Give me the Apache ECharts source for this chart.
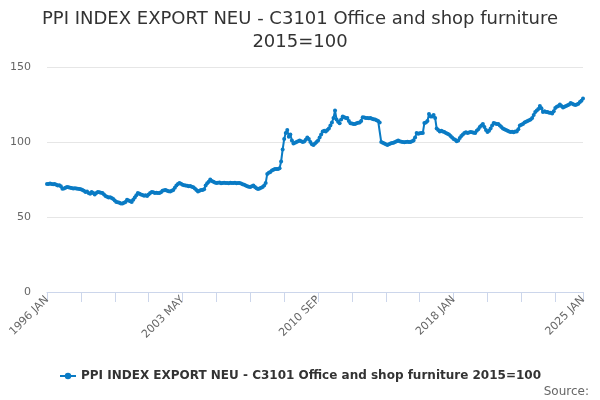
<!DOCTYPE html>
<html>
<head>
<meta charset="utf-8">
<script src="https://cdn.jsdelivr.net/npm/echarts@6/dist/echarts.min.js"></script>
<style>html,body{margin:0;padding:0;background:#fff}#c{width:600px;height:400px}</style>
</head>
<body>
<div id="c"></div>
<script>
var monthNames = ['JAN','FEB','MAR','APR','MAY','JUN','JUL','AUG','SEP','OCT','NOV','DEC'];
var startYear = 1996, endYear = 2025;
var categories = [];
for (var y = startYear; y <= endYear; y++) {
  for (var m = 0; m < 12; m++) {
    if (y === endYear && m > 0) break;
    categories.push(y + ' ' + monthNames[m]);
  }
}
var seriesName = 'PPI INDEX EXPORT NEU - C3101 Office and shop furniture 2015=100';
var values = [
  72, 72, 72.3, 72, 71.8, 72, 71.5, 71, 71.2, 70.5, 68.8, 69,
  69.5, 70, 69.8, 69.5, 69.3, 69, 69.2, 69, 68.8, 68.6, 68.5, 68,
  67.5, 66.7, 67, 66, 65.5, 66.7, 66, 65, 66, 66.7, 66.5, 66.2,
  66, 65, 64, 63.5, 63, 63.2, 62.6, 62, 61, 60, 59.8, 59.5,
  59, 59, 59.5, 60, 61.5, 61, 60.5, 60, 61.5, 63, 64.5, 66,
  65.5, 65, 64.6, 64.2, 64.5, 64, 65, 66, 66.7, 66.5, 66, 66.2,
  66, 66, 66.5, 67.5, 67.8, 68, 67.5, 67.2, 67, 67.5, 68, 69.5,
  71, 72, 72.6, 72.2, 71.5, 71.2, 71, 70.8, 70.5, 70.6, 70.2, 69.8,
  69, 68, 67, 67.5, 68, 68, 68.5, 71, 72.5, 73.5, 75, 74,
  73.5, 73, 72.6, 72.8, 73, 72.5, 72.7, 72.8, 72.6, 72.7, 72.5, 72.8,
  72.7, 72.6, 72.8, 72.5, 72.7, 72.7, 72.3, 71.8, 71.5, 71, 70.5, 70.2,
  70, 70.5, 71, 70, 69.2, 68.6, 69, 69.5, 70, 71, 72.7, 78.7,
  79.5, 80, 81, 81.5, 82, 82, 82, 82.5, 87, 95, 102, 106,
  108, 103.5, 105, 101, 99, 99.5, 100, 100.5, 101, 100.5, 100, 100.3,
  101.5, 103, 102, 100, 98.5, 98, 99, 100, 101, 103, 105, 107,
  107.5, 107, 108, 109, 111, 113, 116, 121, 115, 113.5, 112.5, 115,
  117, 116.5, 116, 116, 114, 112.5, 112.3, 112, 112, 112.5, 112.8, 113,
  114, 116.5, 116.3, 116, 116, 115.8, 116, 115.5, 115.2, 115, 114.5, 114,
  113, 100, 99.5, 99, 98.5, 98, 98.5, 99, 99.3, 99.5, 100, 100.5,
  101, 100.5, 100.2, 100, 99.8, 100, 100.2, 100, 100, 100.5, 101, 103,
  106, 105.5, 105.8, 106, 106, 112.6, 113, 114, 118.6, 117, 117, 118,
  116, 109, 108, 107, 107.5, 107, 106.6, 106, 105.5, 105, 104, 103,
  102, 101.5, 100.5, 101, 102.6, 104, 105, 106, 106.5, 106, 106.3, 106.6,
  106.5, 106.2, 106, 107.5, 108.5, 110, 111, 112, 110, 108, 106.6, 107.5,
  109, 111, 112.6, 112.3, 112, 112, 111, 110, 109, 108.5, 108, 107.5,
  107, 106.6, 106.8, 106.5, 107, 107, 108.5, 111, 111.5, 112, 113, 113.5,
  114, 114.5, 115, 116, 118, 120, 121, 122, 124, 122.5, 120, 120.5,
  120, 120, 119.5, 119.5, 119, 120.5, 122.6, 123.5, 124, 125, 124, 123,
  123.5, 124, 124.5, 125, 126, 125.5, 125, 124.6, 125, 125.5, 126.6, 127.5,
  129
];
var yMin = 0, yMax = 150, yInterval = 50;

var chart = echarts.init(document.getElementById('c'));
var font = 'DejaVu Sans';
chart.setOption({
  animation: false,
  textStyle: { fontFamily: font },
  title: [{
    text: 'PPI INDEX EXPORT NEU - C3101 Office and shop furniture\n2015=100',
    left: 'center', top: 3,
    textStyle: { fontSize: 18, fontWeight: 'normal', color: '#333333', fontFamily: font, lineHeight: 23 }
  }, {
    text: 'Source:',
    right: 6, top: 381,
    textStyle: { fontSize: 12, fontWeight: 'normal', color: '#666666', fontFamily: font }
  }],
  legend: {
    top: 365, left: 'center',
    itemWidth: 16, itemHeight: 8, itemGap: 5,
    textStyle: { fontSize: 12, fontWeight: 'bold', color: '#333333', fontFamily: font },
    data: [seriesName]
  },
  grid: { left: 47, right: 17, top: 67, bottom: 108, containLabel: false },
  xAxis: {
    type: 'category',
    data: categories,
    boundaryGap: false,
    axisLine: { lineStyle: { color: '#ccd6eb' } },
    axisTick: { interval: 21, length: 10, lineStyle: { color: '#ccd6eb' } },
    axisLabel: { interval: 87, showMaxLabel: true, rotate: 45, color: '#666666', fontSize: 11, fontFamily: font, margin: 6 },
    splitLine: { show: false }
  },
  yAxis: {
    type: 'value',
    min: yMin, max: yMax, interval: yInterval,
    axisLine: { show: false },
    axisTick: { show: false },
    axisLabel: { color: '#666666', fontSize: 11, fontFamily: font, margin: 16 },
    splitLine: { lineStyle: { color: '#e6e6e6' } }
  },
  series: [{
    name: seriesName,
    type: 'line',
    data: values,
    symbol: 'circle',
    symbolSize: 4,
    showAllSymbol: true,
    lineStyle: { width: 2, color: '#0a7bc4' },
    itemStyle: { color: '#0a7bc4' }
  }]
});
</script>
</body>
</html>
